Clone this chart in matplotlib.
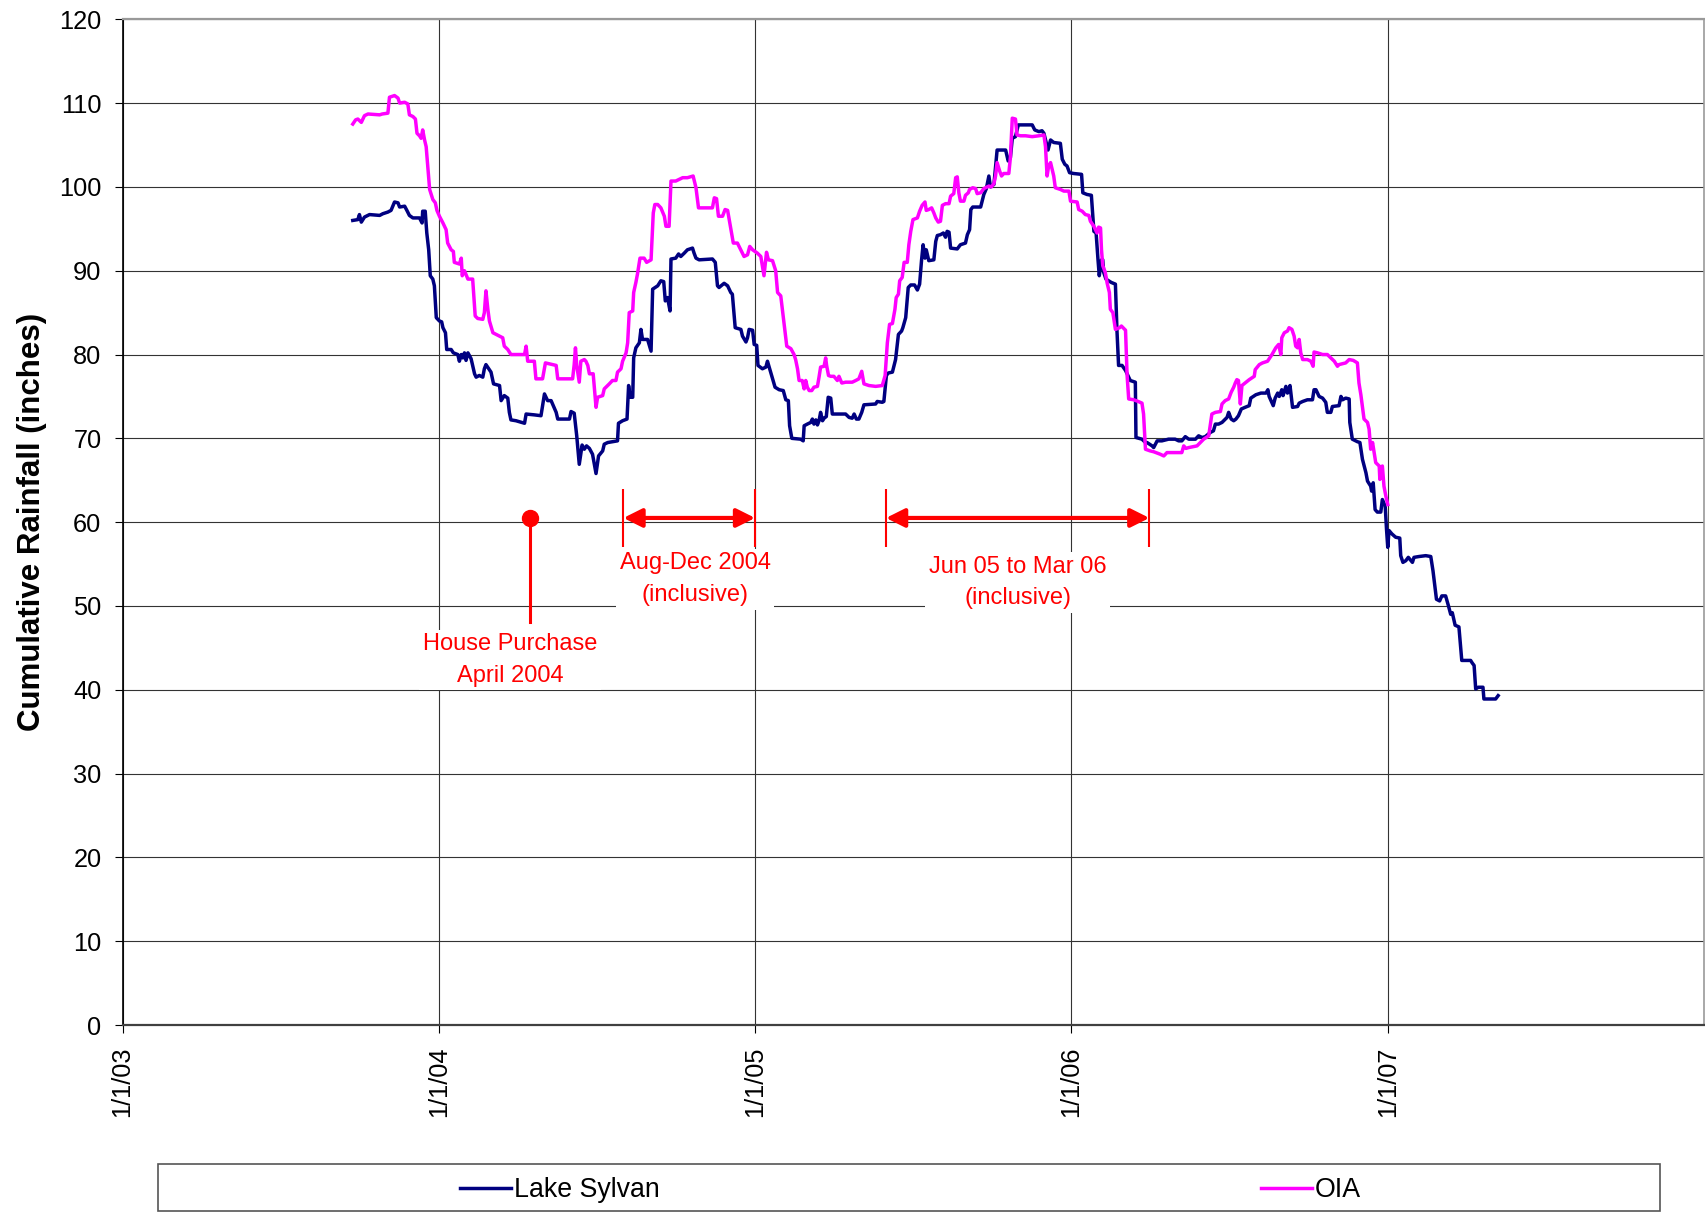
import matplotlib
matplotlib.use('Agg')
import matplotlib.pyplot as plt
from matplotlib.patches import Rectangle
from datetime import date

plt.rcParams['font.family'] = ['Liberation Sans', 'DejaVu Sans']

# Running 12-month rainfall totals (inches), time given as decimal year
sylvan = [
    (2003.728, 96.0), (2003.744, 96.1), (2003.749, 96.7), (2003.755, 95.8), (2003.765, 96.4),
    (2003.781, 96.7), (2003.813, 96.6), (2003.823, 96.8), (2003.839, 97.0), (2003.849, 97.2),
    (2003.860, 98.2), (2003.871, 98.1), (2003.876, 97.6), (2003.892, 97.7), (2003.899, 97.2),
    (2003.907, 96.6), (2003.918, 96.3), (2003.939, 96.3), (2003.947, 95.7), (2003.949, 97.1),
    (2003.957, 97.1), (2003.962, 94.5), (2003.968, 92.5), (2003.973, 89.4), (2003.981, 89.0),
    (2003.986, 88.2), (2003.992, 84.4), (2004.002, 84.0), (2004.009, 83.9), (2004.013, 83.2),
    (2004.021, 82.6), (2004.025, 80.6), (2004.039, 80.6), (2004.046, 80.2), (2004.060, 80.0),
    (2004.065, 79.2), (2004.071, 80.0), (2004.076, 79.6), (2004.081, 80.2), (2004.086, 79.3),
    (2004.092, 80.2), (2004.102, 79.5), (2004.113, 77.7), (2004.118, 77.3), (2004.128, 77.5),
    (2004.139, 77.3), (2004.144, 78.3), (2004.149, 78.8), (2004.158, 78.3), (2004.165, 77.9),
    (2004.173, 76.5), (2004.192, 76.3), (2004.197, 74.5), (2004.207, 75.1), (2004.218, 74.8),
    (2004.223, 73.1), (2004.228, 72.2), (2004.244, 72.1), (2004.271, 71.8), (2004.276, 72.9),
    (2004.302, 72.8), (2004.323, 72.7), (2004.334, 75.3), (2004.344, 74.5), (2004.355, 74.5),
    (2004.371, 73.1), (2004.376, 72.3), (2004.413, 72.3), (2004.418, 73.2), (2004.428, 73.0),
    (2004.436, 70.3), (2004.444, 66.9), (2004.453, 69.2), (2004.460, 68.7), (2004.467, 69.1),
    (2004.476, 68.8), (2004.486, 68.1), (2004.497, 65.8), (2004.505, 67.9), (2004.518, 68.5),
    (2004.523, 69.3), (2004.534, 69.5), (2004.565, 69.7), (2004.568, 71.8), (2004.581, 72.1),
    (2004.595, 72.3), (2004.600, 76.3), (2004.605, 74.9), (2004.613, 74.9), (2004.616, 79.6),
    (2004.623, 80.8), (2004.634, 81.4), (2004.639, 83.0), (2004.644, 81.8), (2004.660, 81.8),
    (2004.671, 80.4), (2004.676, 87.8), (2004.692, 88.2), (2004.702, 88.8), (2004.711, 88.7),
    (2004.716, 86.4), (2004.723, 86.8), (2004.731, 85.2), (2004.734, 91.4), (2004.749, 91.5),
    (2004.758, 92.0), (2004.765, 91.7), (2004.776, 92.1), (2004.786, 92.5), (2004.802, 92.7),
    (2004.807, 92.1), (2004.813, 91.5), (2004.823, 91.3), (2004.865, 91.4), (2004.874, 91.0),
    (2004.881, 88.2), (2004.886, 88.0), (2004.902, 88.5), (2004.913, 88.2), (2004.923, 87.4),
    (2004.928, 87.2), (2004.937, 83.2), (2004.955, 83.0), (2004.960, 82.2), (2004.971, 81.5),
    (2004.976, 82.0), (2004.981, 83.0), (2004.992, 82.9), (2004.997, 81.2), (2005.005, 81.1),
    (2005.009, 78.7), (2005.023, 78.3), (2005.034, 78.5), (2005.039, 79.2), (2005.046, 78.3),
    (2005.055, 77.1), (2005.063, 76.1), (2005.076, 75.8), (2005.089, 75.7), (2005.097, 74.6),
    (2005.105, 74.5), (2005.109, 71.5), (2005.116, 70.0), (2005.144, 69.9), (2005.152, 69.7),
    (2005.155, 71.5), (2005.165, 71.7), (2005.176, 71.9), (2005.181, 72.3), (2005.186, 71.7),
    (2005.192, 72.2), (2005.197, 71.6), (2005.202, 72.1), (2005.207, 73.1), (2005.213, 72.1),
    (2005.218, 72.4), (2005.225, 72.6), (2005.231, 74.9), (2005.239, 74.8), (2005.244, 72.9),
    (2005.260, 72.9), (2005.286, 72.9), (2005.297, 72.5), (2005.307, 72.4), (2005.313, 72.9),
    (2005.320, 72.3), (2005.328, 72.3), (2005.337, 73.1), (2005.344, 74.0), (2005.381, 74.1),
    (2005.386, 74.4), (2005.402, 74.3), (2005.407, 74.4), (2005.415, 77.5), (2005.421, 77.8),
    (2005.434, 77.9), (2005.444, 79.4), (2005.453, 82.4), (2005.463, 82.8), (2005.467, 83.2),
    (2005.476, 84.4), (2005.484, 88.0), (2005.492, 88.3), (2005.504, 88.3), (2005.513, 87.7),
    (2005.520, 88.4), (2005.526, 91.2), (2005.531, 93.1), (2005.537, 91.5), (2005.541, 92.5),
    (2005.549, 91.2), (2005.565, 91.3), (2005.571, 93.5), (2005.576, 94.2), (2005.586, 94.3),
    (2005.595, 94.5), (2005.602, 94.0), (2005.607, 94.7), (2005.613, 94.6), (2005.618, 92.7),
    (2005.639, 92.6), (2005.649, 93.1), (2005.665, 93.3), (2005.671, 94.3), (2005.678, 94.9),
    (2005.682, 97.3), (2005.688, 97.6), (2005.713, 97.6), (2005.723, 99.1), (2005.731, 99.8),
    (2005.739, 101.3), (2005.744, 100.0), (2005.755, 100.3), (2005.765, 104.4), (2005.792, 104.4),
    (2005.800, 103.1), (2005.807, 103.5), (2005.813, 105.8), (2005.823, 106.0), (2005.832, 107.4),
    (2005.876, 107.4), (2005.884, 106.8), (2005.897, 106.6), (2005.907, 106.7), (2005.913, 106.4),
    (2005.926, 104.4), (2005.934, 105.6), (2005.944, 105.3), (2005.965, 105.2), (2005.971, 103.3),
    (2005.979, 102.7), (2005.986, 102.5), (2005.994, 101.7), (2006.007, 101.6), (2006.032, 101.5),
    (2006.036, 99.3), (2006.049, 99.1), (2006.063, 99.0), (2006.071, 94.7), (2006.078, 94.5),
    (2006.084, 91.3), (2006.088, 89.4), (2006.095, 91.3), (2006.099, 91.3), (2006.102, 89.8),
    (2006.109, 89.0), (2006.126, 88.6), (2006.139, 88.4), (2006.144, 82.8), (2006.149, 78.7),
    (2006.160, 78.7), (2006.171, 78.1), (2006.186, 76.9), (2006.202, 76.7), (2006.204, 70.1),
    (2006.223, 69.9), (2006.234, 69.5), (2006.239, 69.5), (2006.255, 69.1), (2006.260, 68.9),
    (2006.271, 69.7), (2006.286, 69.7), (2006.307, 69.9), (2006.328, 69.9), (2006.339, 69.7),
    (2006.349, 69.7), (2006.360, 70.2), (2006.371, 69.9), (2006.392, 69.9), (2006.402, 70.3),
    (2006.413, 70.1), (2006.423, 70.2), (2006.439, 70.7), (2006.449, 70.9), (2006.455, 71.7),
    (2006.465, 71.7), (2006.476, 71.9), (2006.492, 72.5), (2006.497, 73.1), (2006.505, 72.3),
    (2006.513, 72.1), (2006.520, 72.3), (2006.528, 72.7), (2006.537, 73.5), (2006.549, 73.7),
    (2006.562, 73.9), (2006.567, 74.8), (2006.583, 75.2), (2006.599, 75.4), (2006.615, 75.4),
    (2006.621, 75.8), (2006.625, 75.0), (2006.638, 73.9), (2006.644, 74.8), (2006.652, 75.4),
    (2006.657, 75.0), (2006.665, 75.8), (2006.669, 75.1), (2006.678, 76.2), (2006.683, 75.4),
    (2006.691, 76.3), (2006.699, 73.7), (2006.715, 73.8), (2006.720, 74.2), (2006.731, 74.4),
    (2006.746, 74.6), (2006.762, 74.6), (2006.767, 75.8), (2006.773, 75.8), (2006.783, 75.0),
    (2006.794, 74.8), (2006.804, 74.3), (2006.809, 73.1), (2006.820, 73.1), (2006.825, 73.8),
    (2006.846, 73.9), (2006.852, 75.0), (2006.857, 74.6), (2006.867, 74.8), (2006.878, 74.7),
    (2006.880, 71.9), (2006.888, 69.9), (2006.904, 69.6), (2006.912, 69.5), (2006.920, 67.5),
    (2006.931, 65.9), (2006.936, 64.9), (2006.946, 64.3), (2006.949, 63.7), (2006.954, 64.7),
    (2006.960, 61.5), (2006.967, 61.2), (2006.978, 61.2), (2006.983, 62.7), (2006.992, 61.9),
    (2006.996, 59.2), (2007.000, 57.0), (2007.004, 59.0), (2007.013, 58.6), (2007.025, 58.2),
    (2007.038, 58.1), (2007.041, 56.0), (2007.048, 55.2), (2007.057, 55.4), (2007.065, 55.8),
    (2007.078, 55.2), (2007.083, 55.8), (2007.099, 55.9), (2007.120, 56.0), (2007.136, 55.9),
    (2007.143, 54.2), (2007.154, 50.8), (2007.164, 50.6), (2007.171, 51.2), (2007.183, 51.2),
    (2007.192, 50.0), (2007.199, 49.0), (2007.204, 49.2), (2007.213, 47.7), (2007.225, 47.5),
    (2007.234, 43.5), (2007.262, 43.5), (2007.267, 43.2), (2007.273, 42.9), (2007.278, 40.1),
    (2007.286, 40.3), (2007.301, 40.3), (2007.304, 38.9), (2007.341, 38.9), (2007.349, 39.3),
]

oia = [
    (2003.728, 107.5), (2003.737, 108.0), (2003.744, 108.1), (2003.755, 107.7), (2003.765, 108.5),
    (2003.776, 108.7), (2003.813, 108.6), (2003.821, 108.7), (2003.839, 108.8), (2003.844, 110.7),
    (2003.860, 110.9), (2003.871, 110.6), (2003.876, 110.0), (2003.892, 110.1), (2003.902, 109.9),
    (2003.907, 108.6), (2003.918, 108.4), (2003.926, 108.1), (2003.931, 106.4), (2003.939, 106.1),
    (2003.944, 105.8), (2003.949, 106.8), (2003.955, 105.6), (2003.960, 104.8), (2003.971, 99.7),
    (2003.981, 98.5), (2003.989, 98.1), (2003.994, 97.2), (2004.002, 96.5), (2004.013, 95.7),
    (2004.023, 94.9), (2004.028, 93.3), (2004.039, 92.5), (2004.046, 92.3), (2004.049, 91.0),
    (2004.065, 90.8), (2004.071, 91.5), (2004.074, 89.4), (2004.081, 90.0), (2004.092, 89.0),
    (2004.107, 89.0), (2004.115, 84.6), (2004.123, 84.3), (2004.139, 84.2), (2004.144, 85.0),
    (2004.149, 87.6), (2004.155, 85.4), (2004.160, 84.0), (2004.171, 82.6), (2004.192, 82.2),
    (2004.202, 82.0), (2004.207, 81.0), (2004.218, 80.6), (2004.228, 80.0), (2004.271, 80.0),
    (2004.276, 81.0), (2004.281, 79.2), (2004.302, 79.2), (2004.307, 77.1), (2004.328, 77.1),
    (2004.337, 79.0), (2004.360, 78.8), (2004.371, 78.7), (2004.376, 77.1), (2004.423, 77.1),
    (2004.428, 78.8), (2004.432, 80.8), (2004.436, 78.7), (2004.444, 76.7), (2004.449, 79.2),
    (2004.460, 79.4), (2004.465, 79.2), (2004.471, 78.7), (2004.476, 77.7), (2004.488, 77.7),
    (2004.497, 73.7), (2004.502, 74.9), (2004.518, 75.1), (2004.523, 75.9), (2004.539, 76.5),
    (2004.549, 76.9), (2004.560, 76.9), (2004.565, 77.9), (2004.576, 78.3), (2004.581, 79.2),
    (2004.592, 80.2), (2004.597, 81.4), (2004.602, 85.0), (2004.613, 85.2), (2004.616, 87.4),
    (2004.623, 88.6), (2004.628, 89.6), (2004.636, 91.5), (2004.649, 91.5), (2004.657, 91.0),
    (2004.671, 91.3), (2004.678, 96.9), (2004.683, 97.9), (2004.692, 97.9), (2004.702, 97.5),
    (2004.713, 96.5), (2004.718, 95.3), (2004.728, 95.3), (2004.734, 100.7), (2004.749, 100.7),
    (2004.760, 100.9), (2004.771, 101.1), (2004.786, 101.1), (2004.804, 101.3), (2004.813, 99.9),
    (2004.821, 97.5), (2004.865, 97.5), (2004.871, 98.7), (2004.878, 98.6), (2004.884, 96.5),
    (2004.897, 96.5), (2004.905, 97.3), (2004.913, 97.2), (2004.918, 96.1), (2004.931, 93.3),
    (2004.944, 93.3), (2004.952, 92.7), (2004.965, 91.7), (2004.976, 91.9), (2004.983, 92.9),
    (2004.992, 92.5), (2005.007, 92.1), (2005.018, 91.7), (2005.028, 89.4), (2005.036, 92.2),
    (2005.042, 91.3), (2005.055, 91.2), (2005.065, 90.0), (2005.071, 87.4), (2005.081, 87.0),
    (2005.086, 85.4), (2005.092, 83.4), (2005.100, 81.0), (2005.113, 80.7), (2005.123, 80.0),
    (2005.128, 79.4), (2005.134, 78.3), (2005.139, 76.9), (2005.149, 76.9), (2005.155, 75.9),
    (2005.160, 76.9), (2005.165, 76.1), (2005.171, 75.7), (2005.179, 75.7), (2005.186, 76.1),
    (2005.197, 76.2), (2005.202, 77.3), (2005.207, 78.5), (2005.218, 78.6), (2005.223, 79.6),
    (2005.226, 78.7), (2005.232, 77.5), (2005.239, 77.4), (2005.249, 77.4), (2005.260, 76.9),
    (2005.265, 77.4), (2005.274, 76.6), (2005.286, 76.7), (2005.307, 76.7), (2005.318, 76.9),
    (2005.328, 77.1), (2005.337, 78.0), (2005.344, 76.5), (2005.360, 76.3), (2005.381, 76.2),
    (2005.402, 76.3), (2005.411, 77.5), (2005.418, 81.4), (2005.425, 83.6), (2005.434, 83.7),
    (2005.442, 85.4), (2005.446, 86.8), (2005.453, 87.2), (2005.457, 88.8), (2005.465, 89.2),
    (2005.471, 91.0), (2005.481, 91.0), (2005.486, 93.1), (2005.492, 94.7), (2005.499, 96.1),
    (2005.513, 96.3), (2005.520, 97.1), (2005.528, 97.8), (2005.537, 98.2), (2005.541, 97.2),
    (2005.549, 97.3), (2005.558, 97.5), (2005.565, 96.9), (2005.571, 96.3), (2005.579, 95.8),
    (2005.586, 95.9), (2005.592, 97.8), (2005.602, 98.0), (2005.613, 98.0), (2005.618, 98.9),
    (2005.628, 99.2), (2005.634, 101.1), (2005.639, 101.2), (2005.644, 99.3), (2005.649, 98.3),
    (2005.660, 98.3), (2005.665, 99.0), (2005.674, 99.3), (2005.678, 99.7), (2005.688, 99.9),
    (2005.697, 99.8), (2005.702, 99.2), (2005.713, 99.3), (2005.723, 99.8), (2005.739, 100.1),
    (2005.747, 100.0), (2005.755, 100.4), (2005.760, 101.3), (2005.765, 102.9), (2005.773, 101.9),
    (2005.779, 101.3), (2005.786, 101.6), (2005.802, 101.6), (2005.807, 103.5), (2005.813, 108.2),
    (2005.823, 108.1), (2005.828, 106.2), (2005.839, 106.1), (2005.855, 106.1), (2005.876, 106.0),
    (2005.897, 106.1), (2005.913, 106.2), (2005.918, 104.8), (2005.923, 101.3), (2005.928, 102.5),
    (2005.934, 102.9), (2005.939, 102.1), (2005.944, 101.3), (2005.949, 99.9), (2005.965, 99.7),
    (2005.976, 99.5), (2005.992, 99.5), (2005.997, 98.3), (2006.018, 98.2), (2006.023, 97.3),
    (2006.034, 97.1), (2006.044, 96.7), (2006.055, 96.6), (2006.060, 95.9), (2006.071, 95.3),
    (2006.081, 94.5), (2006.086, 95.2), (2006.092, 95.1), (2006.095, 92.5), (2006.099, 90.6),
    (2006.107, 89.8), (2006.113, 88.5), (2006.120, 87.4), (2006.123, 85.4), (2006.131, 85.0),
    (2006.139, 83.0), (2006.152, 83.2), (2006.158, 83.4), (2006.171, 82.9), (2006.176, 77.5),
    (2006.181, 74.7), (2006.197, 74.6), (2006.211, 74.4), (2006.223, 74.2), (2006.228, 72.9),
    (2006.234, 68.7), (2006.249, 68.5), (2006.260, 68.4), (2006.281, 68.1), (2006.292, 67.9),
    (2006.302, 68.3), (2006.328, 68.3), (2006.349, 68.3), (2006.355, 69.1), (2006.362, 68.8),
    (2006.371, 68.9), (2006.397, 69.1), (2006.418, 69.9), (2006.434, 70.3), (2006.444, 72.9),
    (2006.455, 73.1), (2006.471, 73.2), (2006.476, 74.1), (2006.486, 74.5), (2006.497, 74.7),
    (2006.505, 75.5), (2006.513, 76.1), (2006.518, 76.6), (2006.523, 77.0), (2006.528, 76.9),
    (2006.534, 74.1), (2006.539, 76.3), (2006.549, 76.6), (2006.562, 77.0), (2006.578, 77.4),
    (2006.581, 78.2), (2006.594, 78.8), (2006.604, 79.0), (2006.620, 79.2), (2006.634, 80.0),
    (2006.646, 80.8), (2006.655, 81.2), (2006.662, 80.0), (2006.665, 82.0), (2006.673, 82.6),
    (2006.683, 82.8), (2006.688, 83.2), (2006.697, 83.0), (2006.704, 82.2), (2006.709, 81.0),
    (2006.715, 80.8), (2006.720, 81.8), (2006.725, 80.2), (2006.731, 79.4), (2006.746, 79.4),
    (2006.757, 79.2), (2006.764, 78.6), (2006.767, 80.3), (2006.778, 80.2), (2006.794, 80.0),
    (2006.809, 80.0), (2006.820, 79.6), (2006.831, 79.2), (2006.841, 78.6), (2006.846, 78.8),
    (2006.857, 78.9), (2006.867, 79.0), (2006.878, 79.4), (2006.891, 79.3), (2006.904, 79.0),
    (2006.909, 76.6), (2006.915, 75.2), (2006.925, 72.3), (2006.936, 71.9), (2006.941, 71.1),
    (2006.946, 68.7), (2006.952, 69.5), (2006.957, 68.3), (2006.962, 67.1), (2006.973, 66.7),
    (2006.975, 65.1), (2006.983, 66.7), (2006.988, 64.3), (2006.994, 63.1), (2007.000, 62.1),
]

year_ticks = [2003, 2004, 2005, 2006, 2007]
year_labels = ['1/1/03', '1/1/04', '1/1/05', '1/1/06', '1/1/07']

# event markers
purchase_day = '2004-04-15'
aug_dec = ('2004-08-01', '2005-01-01')
jun_mar = ('2005-06-01', '2006-04-01')
marker_level = 60.5


def dec_year(s):
    d = date.fromisoformat(s)
    return d.year + (d - date(d.year, 1, 1)).days / 365.0


fig = plt.figure(figsize=(17.05, 12.12), dpi=100)
ax = fig.add_axes([0.07185, 0.15429, 0.9276, 0.82979])

t1, v1 = zip(*sylvan)
t2, v2 = zip(*oia)
l1, = ax.plot(t1, v1, color='#000080', lw=2.5, label='Lake Sylvan', zorder=3)
l2, = ax.plot(t2, v2, color='#FF00FF', lw=2.5, label='OIA', zorder=3)

ax.set_xlim(2003, 2008)
ax.set_ylim(0, 120)
ax.set_yticks(range(0, 121, 10))
ax.set_xticks(year_ticks)
ax.set_xticklabels(year_labels, rotation=90)
ax.tick_params(axis='both', direction='out', length=5.8, width=0.8, labelsize=18.3)
ax.tick_params(axis='y', pad=9.4)
ax.tick_params(axis='x', pad=10)
ax.grid(True, color='#333333', lw=0.8)
ax.set_axisbelow(True)

ax.spines['left'].set_color('black')
ax.spines['left'].set_linewidth(1.2)
ax.spines['bottom'].set_color('#404040')
ax.spines['bottom'].set_linewidth(1.6)
ax.spines['top'].set_color('#999999')
ax.spines['top'].set_linewidth(1.6)
ax.spines['right'].set_color('#999999')
ax.spines['right'].set_linewidth(1.2)

ax.set_ylabel('Cumulative Rainfall (inches)', fontsize=22.5, fontweight='bold')
ax.yaxis.set_label_coords(-0.048, 0.5)

red = '#FF0000'
box = dict(boxstyle='square,pad=0.15', fc='white', ec='none')

# house purchase pin
xp = dec_year(purchase_day)
ax.plot([xp, xp], [48.1, marker_level], color=red, lw=2.2, zorder=4)
ax.plot(xp, marker_level, 'o', color=red, ms=11.5, zorder=5)
ax.text(2004.225, 43.55, 'House Purchase\nApril 2004', color=red, fontsize=17,
        ha='center', va='center', linespacing=1.57, bbox=box, zorder=4)

# period arrows
for (a, b), label, tx, ty in [(aug_dec, 'Aug-Dec 2004\n(inclusive)', 2004.810, 53.2),
                              (jun_mar, 'Jun 05 to Mar 06\n(inclusive)', 2005.830, 52.8)]:
    xa, xb = dec_year(a), dec_year(b)
    ax.vlines([xa, xb], 57.0, 64.0, color=red, lw=1.5, zorder=4)
    ax.annotate('', xy=(xb, marker_level), xytext=(xa, marker_level),
                arrowprops=dict(arrowstyle='<|-|>', color=red, lw=3,
                                mutation_scale=28, shrinkA=0, shrinkB=0), zorder=4)
    ax.text(tx, ty, label, color=red, fontsize=17, ha='center', va='center',
            linespacing=1.57, bbox=box, zorder=4)

# legend strip below the chart
fig.add_artist(Rectangle((158 / 1705, 1 - 1210.5 / 1212), 1502 / 1705, 46.5 / 1212,
                         transform=fig.transFigure, fill=False, ec='#555555', lw=1.2))
fig.legend([l1, l2], ['Lake Sylvan', 'OIA'], loc='center left',
           bbox_to_anchor=(460 / 1705, 1 - 1190 / 1212), bbox_transform=fig.transFigure,
           ncol=2, frameon=False, borderpad=0, borderaxespad=0, handlelength=1.92,
           handletextpad=0.11, columnspacing=22.4, fontsize=19.3)

fig.savefig('out.png', dpi=100)
